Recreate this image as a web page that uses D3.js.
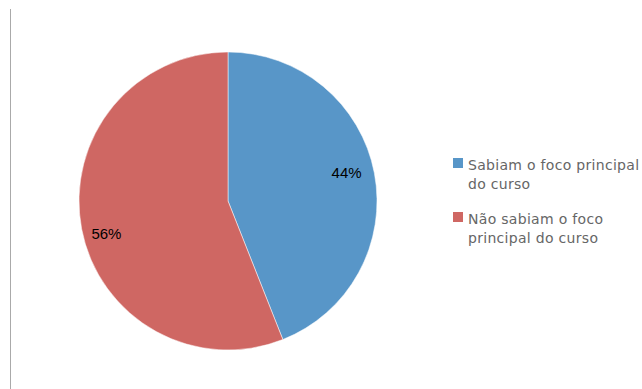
<!DOCTYPE html>
<html>
<head>
<meta charset="utf-8">
<script src="https://cdn.jsdelivr.net/npm/d3@7"></script>
<style>
body { margin: 0; background: #fff; }
</style>
</head>
<body>
<script>
var categories = ["Sabiam o foco principal do curso", "Não sabiam o foco principal do curso"];
var legendLines = [["Sabiam o foco principal", "do curso"], ["Não sabiam o foco", "principal do curso"]];
var values = [44, 56];
var colours = ["#5896c8", "#cf6763"];

var width = 642, height = 389;
var cx = 228, cy = 201, radius = 149;

var svg = d3.select("body").append("svg")
    .attr("width", width).attr("height", height);

// left frame line
svg.append("line")
    .attr("x1", 10.5).attr("x2", 10.5).attr("y1", 9).attr("y2", 389)
    .attr("stroke", "#aaa").attr("stroke-width", 1);

var data = categories.map(function(c, i) { return {name: c, value: values[i], colour: colours[i]}; });

var pie = d3.pie().sort(null).value(function(d) { return d.value; });
var arc = d3.arc().innerRadius(0).outerRadius(radius);
var labelArc = d3.arc().innerRadius(radius * 0.81).outerRadius(radius * 0.81);

var g = svg.append("g").attr("transform", "translate(" + cx + "," + cy + ")");

var slices = g.selectAll(".slice").data(pie(data)).enter();

slices.append("path")
    .attr("d", arc)
    .attr("fill", function(d) { return d.data.colour; })
    .attr("stroke", "#fff")
    .attr("stroke-width", 0.5);

// excel "best fit" nudges the labels a bit
slices.append("text")
    .attr("transform", function(d) { return "translate(" + labelArc.centroid(d) + ")"; })
    .attr("dy", function(d, i) { return i === 0 ? -6 : 10; })
    .attr("dx", function(d, i) { return i === 0 ? 0 : -3; })
    .attr("text-anchor", "middle")
    .attr("dominant-baseline", "central")
    .style("font-family", "Liberation Sans, Arial, sans-serif")
    .style("font-size", "15px")
    .attr("fill", "#000")
    .text(function(d) { return d.data.value + "%"; });

// legend
var legend = svg.append("g").attr("transform", "translate(453,158)");
var item = legend.selectAll(".item").data(data).enter().append("g")
    .attr("transform", function(d, i) { return "translate(0," + (i * 54) + ")"; });

item.append("rect")
    .attr("width", 10).attr("height", 10)
    .attr("fill", function(d) { return d.colour; });

item.append("text")
    .attr("x", 15).attr("y", 12)
    .style("font-family", "DejaVu Sans, sans-serif")
    .style("font-size", "14px")
    .style("letter-spacing", "0.3px")
    .attr("fill", "#666")
    .selectAll("tspan")
    .data(function(d, i) { return legendLines[i]; })
    .enter().append("tspan")
    .attr("x", 15)
    .attr("dy", function(d, j) { return j === 0 ? 0 : 19; })
    .text(function(d) { return d; });
</script>
</body>
</html>
